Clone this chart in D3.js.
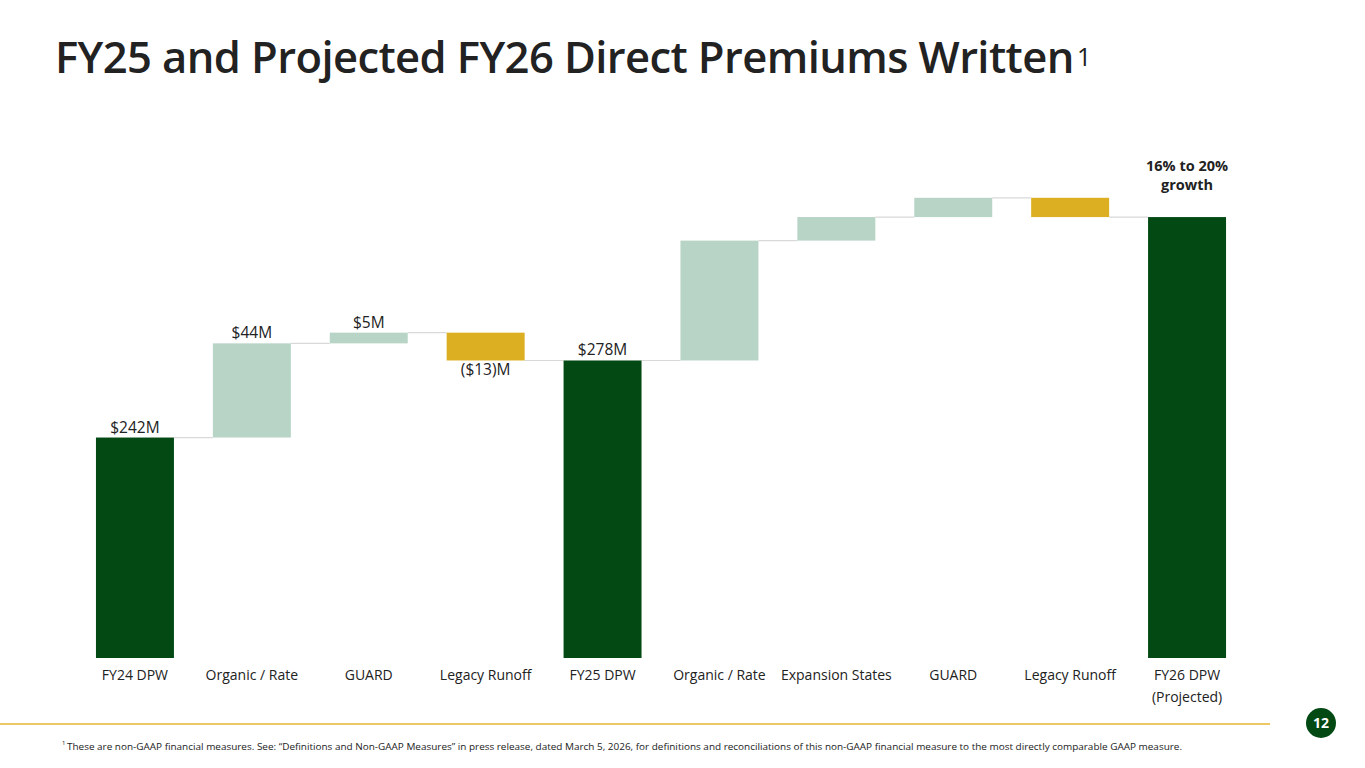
<!DOCTYPE html>
<html>
<head>
<meta charset="utf-8">
<script src="https://cdn.jsdelivr.net/npm/d3@7"></script>
<style>
  html, body { margin: 0; padding: 0; background: #ffffff; }
  svg { display: block; font-family: "Open Sans", "Noto Sans", sans-serif; }
</style>
</head>
<body>
<svg id="chart" width="1365" height="768"></svg>
<script>
// ---- data ----
const categories = ["FY24 DPW", "Organic / Rate", "GUARD", "Legacy Runoff", "FY25 DPW",
                    "Organic / Rate", "Expansion States", "GUARD", "Legacy Runoff", "FY26 DPW"];
const subLabels  = ["", "", "", "", "", "", "", "", "", "(Projected)"];
const kinds      = ["total", "delta", "delta", "delta", "total", "delta", "delta", "delta", "delta", "total"];
const values     = [242, 44, 5, -13, 278, 56, 11, 9, -9, 345];
const valueLabels = ["$242M", "$44M", "$5M", "($13)M", "$278M", "", "", "", "", ""];
const growthNote = ["16% to 20%", "growth"];
const titleText = "FY25 and Projected FY26 Direct Premiums Written";
const footnoteText = "These are non-GAAP financial measures. See: \u201CDefinitions and Non-GAAP Measures\u201D in press release, dated March 5, 2026, for definitions and reconciliations of this non-GAAP financial measure to the most directly comparable GAAP measure.";
const pageNumber = "12";

// ---- colours ----
const C_TOTAL = "#034914";
const C_UP = "#b7d4c6";
const C_DOWN = "#dcae22";
const C_CONN = "#d9d9d9";
const C_TEXT = "#222222";

const svg = d3.select("#chart");

// build waterfall rows
let running = 0;
const rows = categories.map((c, i) => {
  let start, end;
  if (kinds[i] === "total") { start = null; end = values[i]; running = values[i]; }
  else { start = running; end = running + values[i]; running = end; }
  return { i, cat: c, sub: subLabels[i], kind: kinds[i], value: values[i], start, end, label: valueLabels[i] };
});

const x = d3.scaleBand()
  .domain(d3.range(categories.length))
  .range([76.5, 1245.5])
  .paddingInner(0.333)
  .paddingOuter(0.1665);

const y = d3.scaleLinear().domain([139, 345.5]).range([658, 216]);
const base = y.domain()[0];

// connectors
for (let k = 0; k < rows.length - 1; k++) {
  const lvl = rows[k].end;
  svg.append("line")
    .attr("x1", x(k) + x.bandwidth())
    .attr("x2", x(k + 1))
    .attr("y1", y(lvl)).attr("y2", y(lvl))
    .attr("stroke", C_CONN).attr("stroke-width", 1.2);
}

// bars
svg.append("g").selectAll("rect").data(rows).join("rect")
  .attr("x", d => x(d.i))
  .attr("width", x.bandwidth())
  .attr("y", d => d.kind === "total" ? y(d.end) : y(Math.max(d.start, d.end)))
  .attr("height", d => d.kind === "total" ? y(base) - y(d.end) : Math.abs(y(d.start) - y(d.end)))
  .attr("fill", d => d.kind === "total" ? C_TOTAL : (d.value >= 0 ? C_UP : C_DOWN));

// value labels
svg.append("g").selectAll("text").data(rows.filter(d => d.label)).join("text")
  .attr("x", d => x(d.i) + x.bandwidth() / 2)
  .attr("y", d => {
    if (d.kind === "delta" && d.value < 0) return y(d.end) + 15;
    const top = d.kind === "total" ? d.end : Math.max(d.start, d.end);
    return y(top) - 5;
  })
  .attr("text-anchor", "middle")
  .attr("font-size", 15.5)
  .attr("fill", C_TEXT)
  .text(d => d.label);

// growth note
const last = rows[rows.length - 1];
svg.append("g").selectAll("text").data(growthNote).join("text")
  .attr("x", x(last.i) + x.bandwidth() / 2)
  .attr("y", (d, k) => 171 + k * 19)
  .attr("text-anchor", "middle")
  .attr("font-size", 14.5)
  .attr("font-weight", 700)
  .attr("fill", C_TEXT)
  .text(d => d);

// category axis
const xAxis = d3.axisBottom(x).tickSize(0).tickFormat(i => categories[i]);
const gx = svg.append("g").attr("transform", "translate(0,658)").call(xAxis);
gx.select(".domain").remove();
gx.selectAll("text")
  .attr("font-size", 14)
  .attr("fill", C_TEXT)
  .attr("font-family", "'Open Sans', 'Noto Sans', sans-serif")
  .attr("dy", 0)
  .attr("y", 22);
svg.append("g").selectAll("text").data(rows.filter(d => d.sub)).join("text")
  .attr("x", d => x(d.i) + x.bandwidth() / 2)
  .attr("y", 702)
  .attr("text-anchor", "middle")
  .attr("font-size", 14)
  .attr("fill", C_TEXT)
  .text(d => d.sub);

// title: semibold, condensed horizontally to match the reference width
const titleG = svg.append("g");
const title = titleG.append("text")
  .attr("x", 0).attr("y", 0)
  .attr("font-size", 44)
  .attr("font-weight", 600)
  .attr("letter-spacing", -0.6)
  .attr("fill", C_TEXT)
  .text(titleText);
const targetW = 1019;
const natural = title.node().getComputedTextLength();
const sx = targetW / natural;
titleG.attr("transform", `translate(55,73) scale(${sx},1)`);
svg.append("text")
  .attr("x", 55 + targetW + 3).attr("y", 66)
  .attr("font-size", 25)
  .attr("fill", C_TEXT)
  .text("1");

// footer rule and page number
svg.append("line")
  .attr("x1", 0).attr("x2", 1270)
  .attr("y1", 724).attr("y2", 724)
  .attr("stroke", "#e8b534").attr("stroke-width", 1.5);
svg.append("circle").attr("cx", 1321).attr("cy", 723).attr("r", 15).attr("fill", C_TOTAL);
svg.append("text")
  .attr("x", 1321).attr("y", 728)
  .attr("text-anchor", "middle")
  .attr("font-size", 14).attr("font-weight", 700)
  .attr("fill", "#ffffff")
  .text(pageNumber);

// footnote
svg.append("text")
  .attr("x", 62).attr("y", 745)
  .attr("font-size", 6).attr("fill", C_TEXT)
  .text("1");
svg.append("text")
  .attr("x", 67).attr("y", 750)
  .attr("font-size", 9.5).attr("fill", C_TEXT)
  .attr("textLength", 1115)
  .attr("lengthAdjust", "spacingAndGlyphs")
  .text(footnoteText);
</script>
</body>
</html>
